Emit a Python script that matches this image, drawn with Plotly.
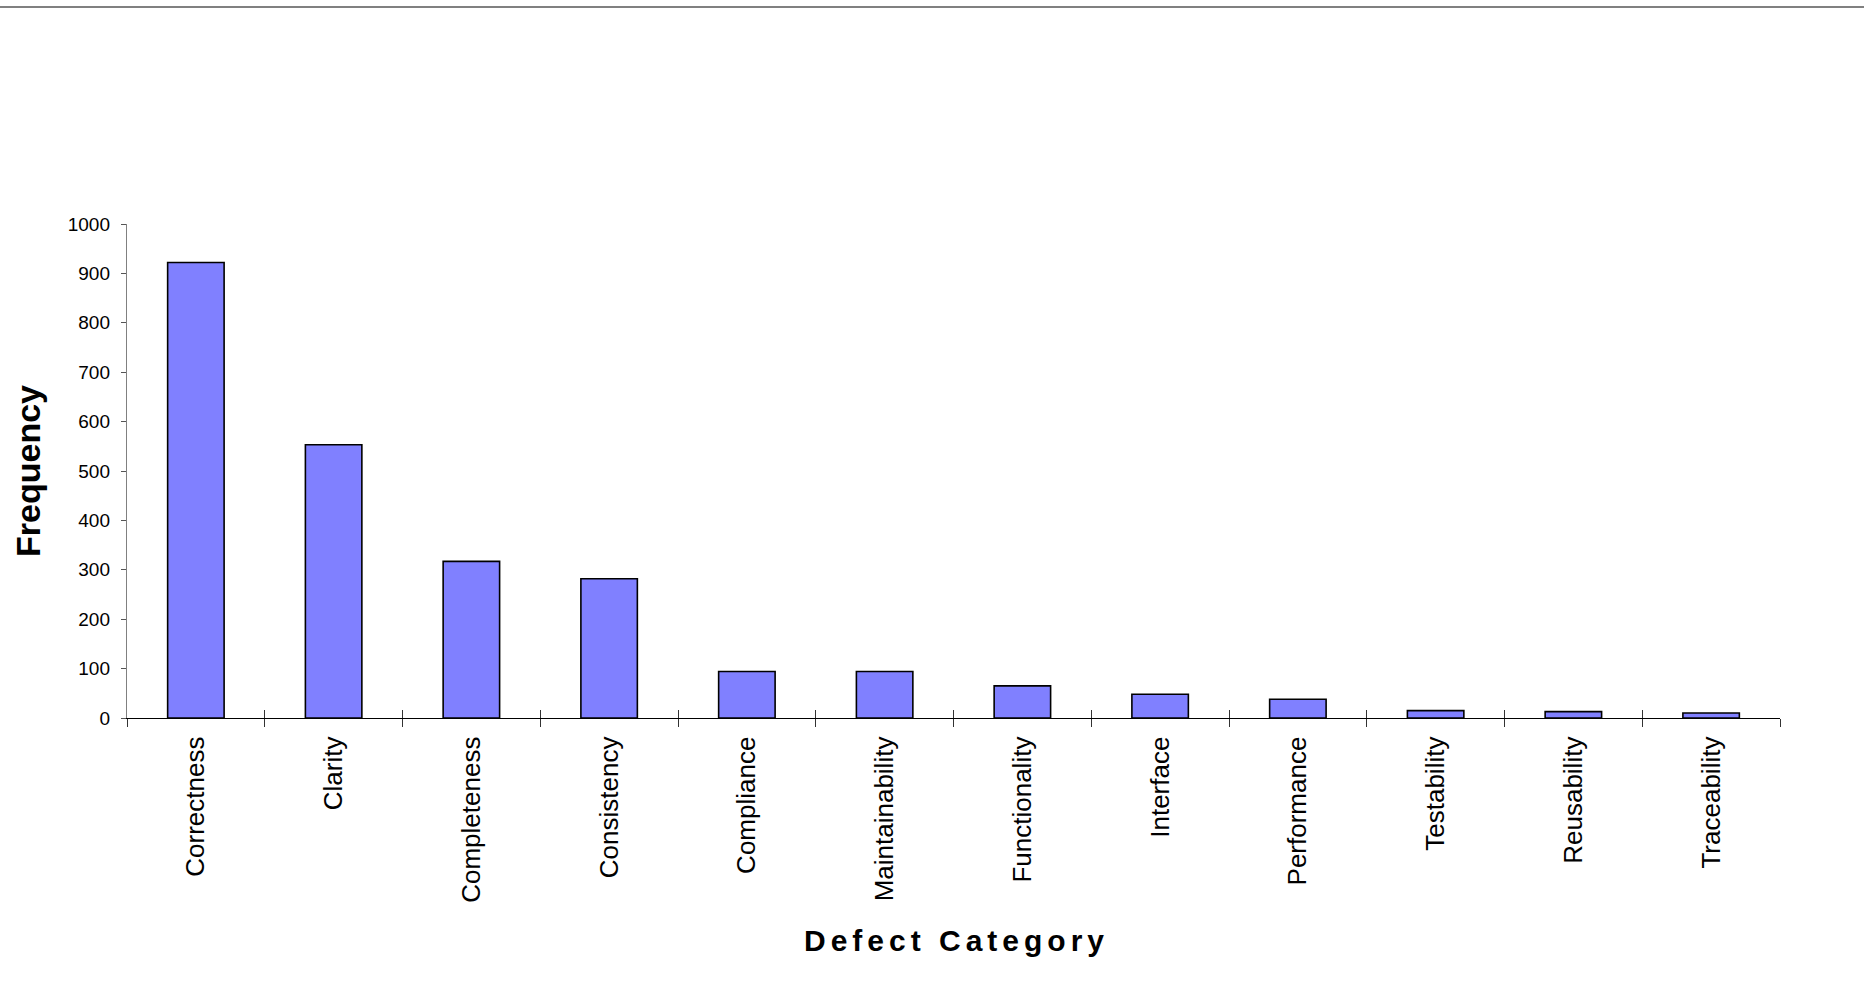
import plotly.graph_objects as go

# Defect counts per category
categories = [
    "Correctness", "Clarity", "Completeness", "Consistency", "Compliance",
    "Maintainability", "Functionality", "Interface", "Performance",
    "Testability", "Reusability", "Traceability",
]
frequency = [922, 553, 317, 282, 94, 94, 65, 48, 38, 15, 13, 10]

y_ticks = list(range(0, 1001, 100))

FONT = "Arial, 'Liberation Sans', sans-serif"
W, H = 1864, 983
M_L, M_R, M_T, M_B = 127, 84, 224, 265
plot_w = W - M_L - M_R
plot_h = H - M_T - M_B

fig = go.Figure()

fig.add_trace(go.Bar(
    x=categories,
    y=frequency,
    width=0.41,
    marker=dict(color="#8080FF", line=dict(color="#000000", width=1.6)),
    hoverinfo="x+y",
))

# invisible companion trace so the overlay axis gets the same categories
fig.add_trace(go.Scatter(
    x=categories,
    y=frequency,
    xaxis="x2",
    mode="markers",
    marker=dict(opacity=0),
    hoverinfo="skip",
    showlegend=False,
))

fig.update_layout(
    width=W,
    height=H,
    margin=dict(l=M_L, r=M_R, t=M_T, b=M_B),
    paper_bgcolor="white",
    plot_bgcolor="white",
    showlegend=False,
    bargap=0.59,
    font=dict(family=FONT, color="#000000"),
    xaxis=dict(
        type="category",
        categoryorder="array",
        categoryarray=categories,
        range=[-0.5, len(categories) - 0.5],
        tickson="boundaries",
        ticks="outside",
        ticklen=8,
        tickwidth=1.2,
        tickcolor="#333333",
        tickangle=-90,
        tickfont=dict(family=FONT, size=26, color="#000000"),
        ticklabelstandoff=7,
        showline=True,
        linecolor="#000000",
        linewidth=1.4,
        showgrid=False,
        zeroline=False,
        fixedrange=True,
    ),
    xaxis2=dict(
        type="category",
        categoryorder="array",
        categoryarray=categories,
        range=[-0.5, len(categories) - 0.5],
        overlaying="x",
        anchor="y",
        side="bottom",
        tickson="boundaries",
        ticks="inside",
        ticklen=8,
        tickwidth=1.2,
        tickcolor="#333333",
        showticklabels=False,
        showline=False,
        showgrid=False,
        zeroline=False,
        fixedrange=True,
    ),
    yaxis=dict(
        range=[0, 1000],
        tickvals=y_ticks,
        ticktext=[str(v) for v in y_ticks],
        ticks="outside",
        ticklen=5,
        tickwidth=1,
        tickcolor="#555555",
        tickfont=dict(family=FONT, size=19, color="#000000"),
        ticklabelstandoff=7,
        showline=True,
        linecolor="#808080",
        linewidth=1.4,
        showgrid=False,
        zeroline=False,
        fixedrange=True,
        title=dict(
            text="Frequency",
            font=dict(family=FONT, size=34, color="#000000", weight="bold"),
            standoff=16,
        ),
    ),
)

# x-axis title with widened letter spacing
spaced = "\u2006".join("Defect Category")
fig.add_annotation(
    text=spaced,
    xref="paper", yref="paper",
    x=0.5, y=0,
    xanchor="center", yanchor="middle",
    yshift=-(940 - (H - M_B)),
    showarrow=False,
    font=dict(family=FONT, size=30, color="#000000", weight="bold"),
)

# thin grey rule across the top of the page
fig.add_shape(
    type="line",
    xref="paper", yref="paper",
    x0=-M_L / plot_w, x1=1 + M_R / plot_w,
    y0=(H - M_B - 7) / plot_h, y1=(H - M_B - 7) / plot_h,
    line=dict(color="#808080", width=2),
)

fig.write_html("out.html")
